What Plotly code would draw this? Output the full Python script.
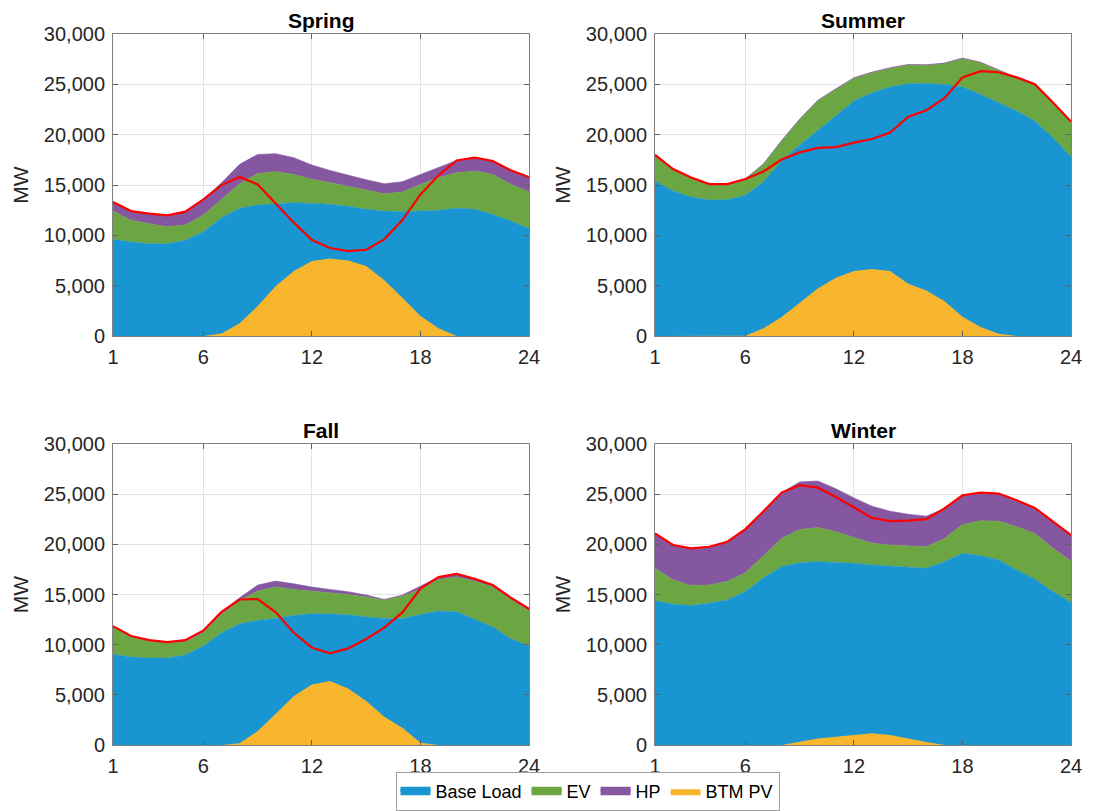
import plotly.graph_objects as go

hours = list(range(1, 25))
seasons = ["Spring", "Summer", "Fall", "Winter"]

base_spring = [9600, 9330, 9170, 9170, 9500, 10360, 11750, 12680, 13010, 13140, 13240, 13170,
               13070, 12880, 12580, 12410, 12350, 12410, 12480, 12680, 12580, 12080, 11420, 10660]
ev_spring = [2810, 2160, 1980, 1690, 1520, 1660, 1820, 2450, 3140, 3180, 2810, 2390,
             2160, 2020, 1920, 1720, 1950, 2650, 3240, 3540, 3800, 3970, 3640, 3670]
hp_spring = [900, 920, 1000, 1120, 1330, 1550, 1660, 1920, 1890, 1790, 1660, 1420,
             1220, 1050, 1020, 1000, 1030, 990, 1000, 1220, 1330, 1330, 1390, 1460]
pv_spring = [0, 0, 0, 0, 0, 0, 240, 1260, 2980, 4970, 6450, 7450,
             7710, 7510, 6950, 5530, 3810, 1990, 760, 0, 0, 0, 0, 0]

base_summer = [15390, 14400, 13800, 13500, 13540, 13970, 15330, 17380, 18970, 20420, 21950, 23340,
               24160, 24730, 25060, 25090, 24990, 24730, 24000, 23170, 22340, 21350, 19690, 17810]
ev_summer = [2580, 2150, 1920, 1560, 1520, 1620, 1720, 1980, 2510, 2920, 2540, 2250,
             1990, 1850, 1850, 1790, 2050, 2810, 3140, 3210, 3310, 3640, 3480, 3470]
hp_summer = [30, 30, 30, 30, 30, 40, 50, 60, 70, 70, 70, 70,
             70, 70, 70, 70, 70, 70, 60, 50, 40, 30, 30, 30]
pv_summer = [0, 0, 0, 0, 0, 30, 760, 1890, 3310, 4730, 5790, 6450,
             6650, 6450, 5200, 4530, 3480, 1920, 890, 230, 0, 0, 0, 0]

base_fall = [9030, 8760, 8670, 8670, 8960, 9860, 11190, 12080, 12420, 12620, 12910, 13080,
             13050, 12980, 12750, 12620, 12580, 13010, 13350, 13280, 12520, 11750, 10590, 9860]
ev_fall = [2720, 2000, 1690, 1490, 1330, 1330, 1820, 2330, 2920, 3120, 2590, 2260,
           2120, 2030, 1990, 1820, 2260, 2490, 3150, 3450, 3810, 3990, 3920, 3490]
hp_fall = [100, 100, 100, 100, 160, 230, 260, 260, 600, 600, 560, 400,
           330, 260, 200, 70, 100, 330, 230, 330, 230, 200, 160, 230]
pv_fall = [0, 0, 0, 0, 0, 0, 0, 170, 1390, 3120, 4880, 6040,
           6370, 5640, 4380, 2820, 1730, 230, 0, 0, 0, 0, 0, 0]

base_winter = [14370, 14030, 13900, 14130, 14460, 15290, 16680, 17770, 18170, 18270, 18200, 18110,
               17940, 17810, 17710, 17610, 18270, 19100, 18870, 18440, 17440, 16520, 15290, 14200]
ev_winter = [3240, 2420, 1990, 1820, 1830, 1890, 2190, 2820, 3310, 3410, 3050, 2540,
             2180, 2120, 2120, 2150, 2320, 2880, 3470, 3870, 4310, 4560, 4310, 4140]
hp_winter = [3470, 3480, 3710, 3810, 3970, 4340, 4430, 4570, 4740, 4630, 4300, 3980,
             3680, 3370, 3170, 3050, 2980, 2910, 2820, 2750, 2640, 2550, 2710, 2580]
pv_winter = [0, 0, 0, 0, 0, 0, 0, 0, 330, 660, 830, 960,
             1160, 990, 630, 300, 0, 0, 0, 0, 0, 0, 0, 0]

x_ticks = [1, 6, 12, 18, 24]
y_ticks = [0, 5000, 10000, 15000, 20000, 25000, 30000]

data = {
    "Spring": (base_spring, ev_spring, hp_spring, pv_spring),
    "Summer": (base_summer, ev_summer, hp_summer, pv_summer),
    "Fall": (base_fall, ev_fall, hp_fall, pv_fall),
    "Winter": (base_winter, ev_winter, hp_winter, pv_winter),
}

colors = {"Base Load": "#1995D2", "EV": "#6BA642", "HP": "#8657A1", "BTM PV": "#F8B62E"}

# page body has an 8px margin, so the figure is drawn at (8, 8) in the window
OFF = 8
W, H = 1093 - OFF, 811 - OFF
xdom = [[(113 - OFF) / W, (529 - OFF) / W], [(655 - OFF) / W, (1071 - OFF) / W]]
ydom = [[1 - (336 - OFF) / H, 1 - (34 - OFF) / H], [1 - (745 - OFF) / H, 1 - (444 - OFF) / H]]

fig = go.Figure()
FONT = "Liberation Sans, Arial, sans-serif"
TXT = "#262626"

for i, s in enumerate(seasons):
    base, ev, hp, pv = data[s]
    idx = i + 1
    xa = "x" if idx == 1 else f"x{idx}"
    ya = "y" if idx == 1 else f"y{idx}"
    show = i == 0
    for name, vals in (("Base Load", base), ("EV", ev), ("HP", hp)):
        fig.add_trace(go.Scatter(
            x=hours, y=vals, name=name, stackgroup=f"sg{idx}", mode="lines",
            line=dict(color=colors[name], width=0.6), fillcolor=colors[name],
            xaxis=xa, yaxis=ya, legendgroup=name, showlegend=show, hoverinfo="skip"))
    fig.add_trace(go.Scatter(
        x=hours, y=pv, name="BTM PV", mode="lines", fill="tozeroy",
        line=dict(color=colors["BTM PV"], width=0), fillcolor=colors["BTM PV"],
        xaxis=xa, yaxis=ya, legendgroup="BTM PV", showlegend=show, hoverinfo="skip"))
    net = [b + e + h - p for b, e, h, p in zip(base, ev, hp, pv)]
    fig.add_trace(go.Scatter(
        x=hours, y=net, name="Net Load", mode="lines",
        line=dict(color="#FF0000", width=2.2),
        xaxis=xa, yaxis=ya, showlegend=False, hoverinfo="skip"))

    col = i % 2
    row = i // 2
    axis_common = dict(showline=True, linecolor="#808080", linewidth=1, mirror="ticks",
                       ticks="inside", ticklen=5, tickcolor="#606060", automargin=False,
                       showgrid=True, gridcolor="#E3E3E3", gridwidth=1, zeroline=False,
                       ticklabelstandoff=3,
                       tickfont=dict(family=FONT, size=20, color=TXT))
    fig.layout[f"xaxis{'' if idx == 1 else idx}"] = dict(
        domain=xdom[col], anchor=ya, range=[1, 24], tickvals=x_ticks,
        ticktext=[str(t) for t in x_ticks], **axis_common)
    fig.layout[f"yaxis{'' if idx == 1 else idx}"] = dict(
        domain=ydom[row], anchor=xa, range=[0, 30000], tickvals=y_ticks,
        tickformat=",d",
        title=dict(text="MW", font=dict(family=FONT, size=21, color=TXT), standoff=9),
        **axis_common)
    fig.add_annotation(
        text=f"<b>{s}</b>", x=(xdom[col][0] + xdom[col][1]) / 2, y=ydom[row][1],
        xref="paper", yref="paper", xanchor="center", yanchor="bottom", yshift=1,
        borderpad=0, showarrow=False, font=dict(family=FONT, size=21, color="#000000"))

fig.update_layout(
    width=W, height=H, margin=dict(l=0, r=0, t=0, b=0, autoexpand=False),
    paper_bgcolor="white", plot_bgcolor="white",
    showlegend=True,
    legend=dict(orientation="h", x=(587.5 - OFF) / W, xanchor="center", y=0.0, yanchor="bottom",
                bordercolor="#A0A0A0", borderwidth=1, bgcolor="white",
                font=dict(family=FONT, size=18, color="#000000"),
                itemsizing="constant", itemwidth=30, tracegroupgap=0),
)

fig.write_html("out.html")
